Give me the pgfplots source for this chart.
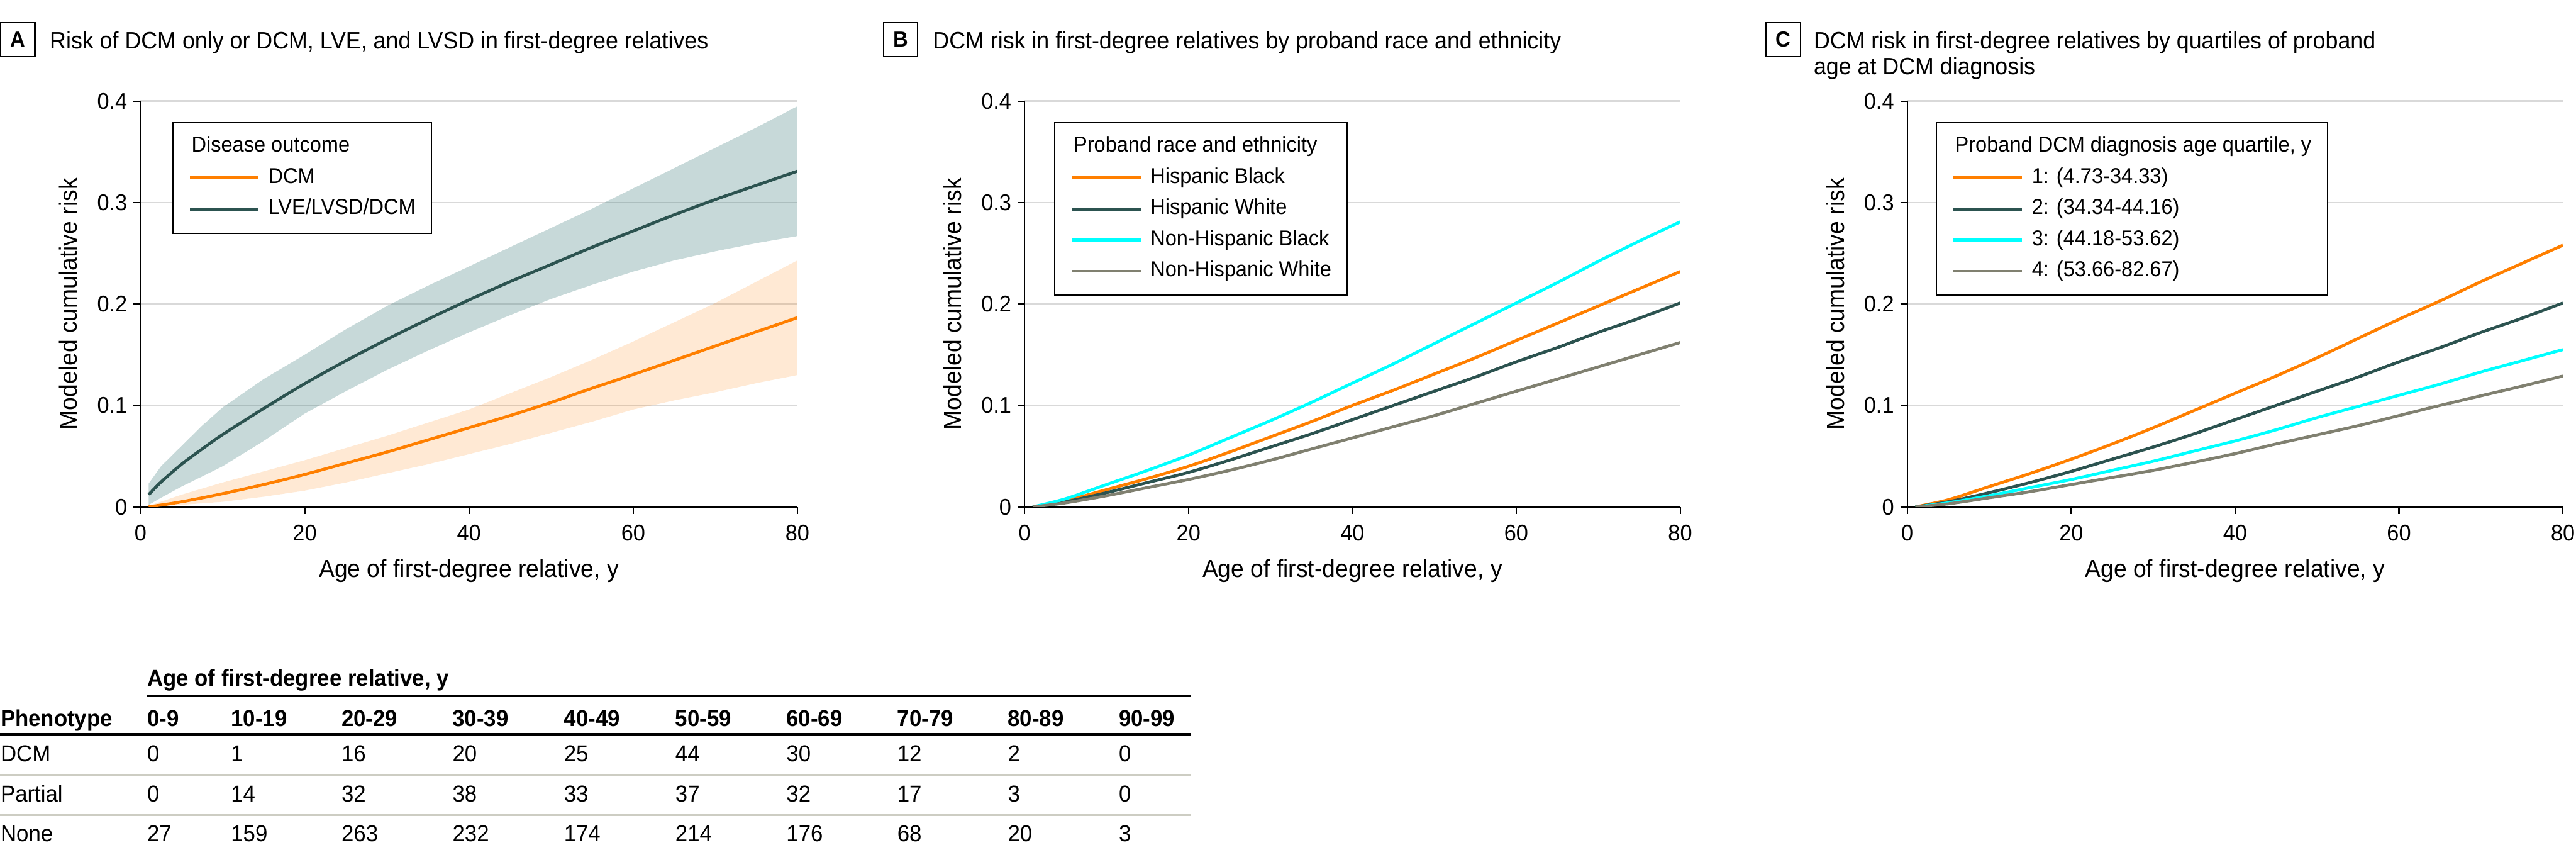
\documentclass[border=0pt]{standalone}
\usepackage{fontspec}
\setmainfont{Liberation Sans}[FakeStretch=0.95]
\usepackage{pgfplots}
\pgfplotsset{compat=1.18}

\definecolor{cOrange}{RGB}{255,127,0}
\definecolor{cTeal}{RGB}{44,83,80}
\definecolor{cCyan}{RGB}{0,255,255}
\definecolor{cGray}{RGB}{128,128,112}
\definecolor{cGrid}{RGB}{217,217,217}
\definecolor{bandTeal}{RGB}{70,130,128}
\definecolor{tabRule}{RGB}{205,205,195}

\newcommand{\fsTitle}{\fontsize{7.2}{8.6}\selectfont}
\newcommand{\fsLabel}{\fontsize{7.5}{9}\selectfont}
\newcommand{\fsTick}{\fontsize{6.9}{8}\selectfont}
\newcommand{\fsLeg}{\fontsize{6.55}{8}\selectfont}
\newcommand{\fsTab}{\fontsize{7}{8.4}\selectfont}

\pgfplotsset{
  panel/.style={
    scale only axis, width=70mm, height=43.3mm,
    anchor=south west,
    xmin=0, xmax=80, ymin=0, ymax=0.4,
    xtick={0,20,40,60,80}, ytick={0,0.1,0.2,0.3,0.4},
    xticklabels={0,20,40,60,80}, yticklabels={0,0.1,0.2,0.3,0.4},
    axis x line=bottom, axis y line=left,
    axis line style={-, line width=0.4pt, black},
    tick align=outside, major tick length=0.75mm,
    tick style={black, line width=0.4pt},
    ymajorgrids, major grid style={cGrid, line width=0.5pt},
    tick label style={font=\fsTick},
    xticklabel style={inner ysep=1.1mm},
    yticklabel style={inner xsep=0.6mm},
    xlabel={Age of first-degree relative, y},
    ylabel={Modeled cumulative risk},
    label style={font=\fsLabel},
    xlabel style={at={(axis description cs:0.5,-0.173)}, anchor=base},
    ylabel style={at={(axis description cs:-0.0964,0.5)}, anchor=base},
    legend cell align=left,
    legend image code/.code={\draw[##1, line width=0.9pt] (0mm,0mm) -- (7.3mm,0mm);},
    legend style={font=\fsLeg, draw=black, line width=0.4pt, anchor=north west,
      inner xsep=1.7mm, inner ysep=1.5mm, row sep=1.17mm, column sep=0.9mm,
      nodes={inner sep=0pt, text height=1.65mm, text depth=0.5mm}},
  },
  curve/.style={line width=0.9pt, smooth},
  legtitle/.style={legend image code/.code={\path[draw=none, fill=none] (0mm,0mm) -- (7.3mm,0mm);}},
}

\begin{document}
\begin{tikzpicture}
\path[use as bounding box] (0,0) rectangle (275.05mm,92.5mm);

% ---------------- Panel A ----------------
\begin{axis}[panel, at={(15mm,38.4mm)}, width=70.15mm,
  legend style={at={(0.048,0.9486)}}]
% LVE/LVSD/DCM confidence band: upper edge, then lower edge reversed
\addplot[draw=none, fill=bandTeal, fill opacity=0.3, forget plot] coordinates {
 (1,0.023) (2.5,0.040) (5,0.060) (7.5,0.080) (10,0.098) (15,0.126) (20,0.150)
 (25,0.175) (30,0.198) (35,0.218) (40,0.237) (45,0.256) (50,0.275) (55,0.294)
 (60,0.314) (65,0.334) (70,0.354) (75,0.374) (80,0.395)
 (80,0.267) (75,0.260) (70,0.252) (65,0.243) (60,0.232) (55,0.219) (50,0.205)
 (45,0.189) (40,0.172) (35,0.154) (30,0.135) (25,0.114) (20,0.092) (15,0.065)
 (10,0.040) (7.5,0.030) (5,0.020) (2.5,0.009) (1,0.002)} -- cycle;
% DCM confidence band
\addplot[draw=none, fill=cOrange, fill opacity=0.17, forget plot] coordinates {
 (1,0.001) (5,0.012) (10,0.024) (15,0.035) (20,0.046) (25,0.058) (30,0.070)
 (35,0.083) (40,0.096) (45,0.112) (50,0.128) (55,0.145) (60,0.163) (65,0.182)
 (70,0.201) (75,0.222) (80,0.243)
 (80,0.130) (75,0.122) (70,0.113) (65,0.105) (60,0.096) (55,0.084) (50,0.073)
 (45,0.062) (40,0.052) (35,0.042) (30,0.033) (25,0.024) (20,0.016) (15,0.010)
 (10,0.005) (5,0.002) (1,0.000)} -- cycle;
\addlegendimage{legtitle}
\addlegendentry{\hspace{-8.2mm}Disease outcome}
\addplot[curve, cOrange] coordinates {
 (1,0.000) (5,0.005) (10,0.013) (15,0.022) (20,0.032) (25,0.043) (30,0.054)
 (35,0.066) (40,0.078) (45,0.090) (50,0.103) (55,0.117) (60,0.1305) (65,0.1445)
 (70,0.1586) (75,0.1726) (80,0.1866)};
\addlegendentry{DCM}
\addplot[curve, cTeal] coordinates {
 (1,0.012) (2.5,0.0245) (5,0.042) (7.5,0.057) (10,0.0713) (15,0.097) (20,0.1215)
 (25,0.144) (30,0.165) (35,0.185) (40,0.204) (45,0.222) (50,0.239) (55,0.256)
 (60,0.272) (65,0.288) (70,0.303) (75,0.317) (80,0.331)};
\addlegendentry{LVE/LVSD/DCM}
\end{axis}

% ---------------- Panel B ----------------
\begin{axis}[panel, at={(109.4mm,38.4mm)},
  legend style={at={(0.045,0.9486)}}]
\addlegendimage{legtitle}
\addlegendentry{\hspace{-8.2mm}Proband race and ethnicity}
\addplot[curve, cOrange] coordinates {
 (1,0) (5,0.006) (10,0.017) (15,0.028) (20,0.040) (25,0.054) (30,0.069)
 (35,0.084) (40,0.100) (45,0.115) (50,0.131) (55,0.147) (60,0.164) (65,0.181)
 (70,0.198) (75,0.215) (80,0.232)};
\addlegendentry{Hispanic Black}
\addplot[curve, cTeal] coordinates {
 (1,0) (5,0.005) (10,0.014) (15,0.024) (20,0.034) (25,0.046) (30,0.059)
 (35,0.072) (40,0.086) (45,0.100) (50,0.114) (55,0.128) (60,0.143) (65,0.157)
 (70,0.172) (75,0.186) (80,0.201)};
\addlegendentry{Hispanic White}
\addplot[curve, cCyan] coordinates {
 (1,0) (5,0.008) (10,0.022) (15,0.036) (20,0.051) (25,0.068) (30,0.085)
 (35,0.103) (40,0.122) (45,0.141) (50,0.161) (55,0.181) (60,0.201) (65,0.221)
 (70,0.242) (75,0.262) (80,0.281)};
\addlegendentry{Non-Hispanic Black}
\addplot[curve, cGray] coordinates {
 (1,0) (5,0.004) (10,0.011) (15,0.019) (20,0.027) (25,0.036) (30,0.046)
 (35,0.057) (40,0.068) (45,0.079) (50,0.090) (55,0.102) (60,0.114) (65,0.126)
 (70,0.138) (75,0.150) (80,0.162)};
\addlegendentry{Non-Hispanic White}
\end{axis}

% ---------------- Panel C ----------------
\begin{axis}[panel, at={(203.65mm,38.4mm)},
  legend style={at={(0.043,0.9486)}}]
\addlegendimage{legtitle}
\addlegendentry{\hspace{-8.2mm}Proband DCM diagnosis age quartile, y}
\addplot[curve, cOrange] coordinates {
 (1,0) (5,0.007) (10,0.020) (15,0.033) (20,0.047) (25,0.062) (30,0.078)
 (35,0.095) (40,0.112) (45,0.129) (50,0.147) (55,0.166) (60,0.185) (65,0.203)
 (70,0.222) (75,0.240) (80,0.258)};
\addlegendentry{1: (4.73-34.33)}
\addplot[curve, cTeal] coordinates {
 (1,0) (5,0.005) (10,0.014) (15,0.024) (20,0.035) (25,0.047) (30,0.059)
 (35,0.072) (40,0.086) (45,0.100) (50,0.114) (55,0.128) (60,0.143) (65,0.157)
 (70,0.172) (75,0.186) (80,0.201)};
\addlegendentry{2: (34.34-44.16)}
\addplot[curve, cCyan] coordinates {
 (1,0) (5,0.004) (10,0.011) (15,0.019) (20,0.027) (25,0.036) (30,0.045)
 (35,0.055) (40,0.065) (45,0.076) (50,0.088) (55,0.099) (60,0.110) (65,0.121)
 (70,0.133) (75,0.144) (80,0.155)};
\addlegendentry{3: (44.18-53.62)}
\addplot[curve, cGray] coordinates {
 (1,0) (5,0.003) (10,0.009) (15,0.015) (20,0.022) (25,0.029) (30,0.036)
 (35,0.044) (40,0.0525) (45,0.062) (50,0.071) (55,0.080) (60,0.090) (65,0.100)
 (70,0.1095) (75,0.119) (80,0.129)};
\addlegendentry{4: (53.66-82.67)}
\end{axis}

% ---------------- titles and table (pixel grid, y down) ----------------
\begin{scope}[x=0.05mm, y=-0.05mm, shift={(0,92.5mm)}]
  \foreach \bx/\L in {1.5/A, 1887/B, 3772/C} {
    \draw[line width=0.4pt] (\bx,48) rectangle ++(73,73);
    \node[font=\fontsize{6.6}{8}\selectfont\bfseries, inner sep=0] at (\bx+36.5,84.5) {\L};
  }
  \node[anchor=base west, inner sep=0, font=\fsTitle] at (105,104)
    {Risk of DCM only or DCM, LVE, and LVSD in first-degree relatives};
  \node[anchor=base west, inner sep=0, font=\fsTitle] at (1991,104)
    {DCM risk in first-degree relatives by proband race and ethnicity};
  \node[anchor=base west, inner sep=0, font=\fsTitle] at (3872,104)
    {DCM risk in first-degree relatives by quartiles of proband};
  \node[anchor=base west, inner sep=0, font=\fsTitle] at (3872,159)
    {age at DCM diagnosis};

  % table
  \node[anchor=base west, inner sep=0, font=\fsTab\bfseries] at (313,1465)
    {Age of first-degree relative, y};
  \draw[line width=0.45pt] (313,1486) -- (2543,1486);
  \draw[line width=0.85pt] (0,1568) -- (2543,1568);
  \draw[tabRule, line width=0.6pt] (0,1654) -- (2543,1654);
  \draw[tabRule, line width=0.6pt] (0,1740) -- (2543,1740);
  \def\colx{{313,492,728,965,1203,1441,1678,1915,2151,2388}}
  \node[anchor=base west, inner sep=0, font=\fsTab\bfseries] at (0,1550) {Phenotype};
  \foreach \t [count=\i from 0] in {0-9,10-19,20-29,30-39,40-49,50-59,60-69,70-79,80-89,90-99} {
    \pgfmathsetmacro\xx{\colx[\i]}
    \node[anchor=base west, inner sep=0, font=\fsTab\bfseries] at (\xx,1550) {\t};
  }
  \foreach \row/\yy/\vals in {DCM/1626/{0,1,16,20,25,44,30,12,2,0},
                              Partial/1712/{0,14,32,38,33,37,32,17,3,0},
                              None/1797/{27,159,263,232,174,214,176,68,20,3}} {
    \node[anchor=base west, inner sep=0, font=\fsTab] at (0,\yy) {\row};
    \foreach \v [count=\i from 0] in \vals {
      \pgfmathsetmacro\xx{\colx[\i]}
      \node[anchor=base west, inner sep=0, font=\fsTab] at (\xx,\yy) {\v};
    }
  }
\end{scope}
\end{tikzpicture}
\end{document}
